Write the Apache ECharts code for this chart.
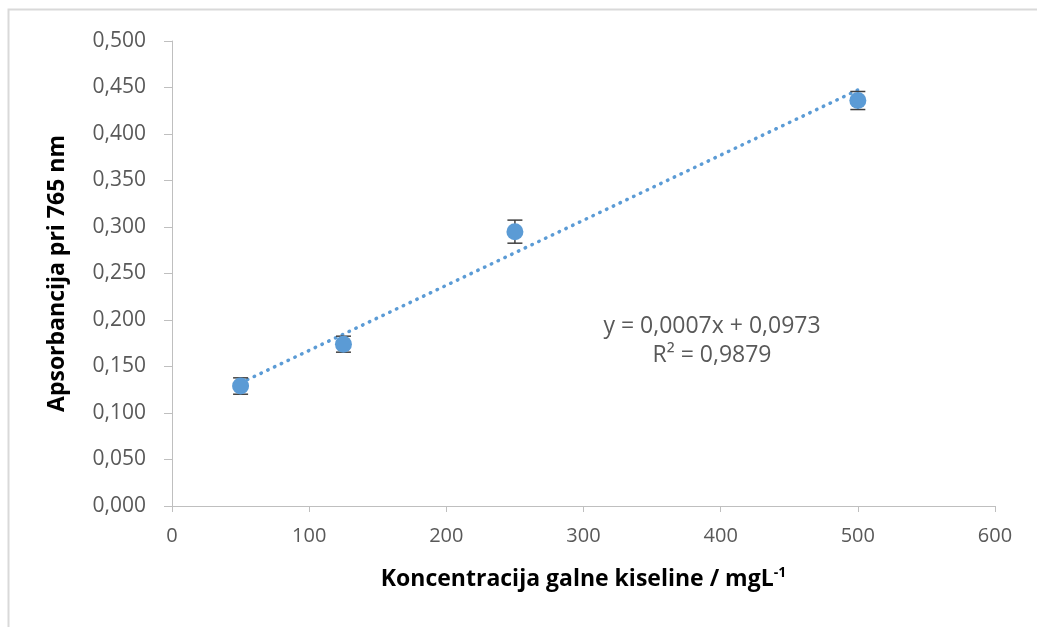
<!DOCTYPE html>
<html>
<head>
<meta charset="utf-8">
<script src="https://cdn.jsdelivr.net/npm/echarts@6/dist/echarts.min.js"></script>
<style>
    html, body { margin: 0; padding: 0; background: #fff; }
    #chart { width: 1037px; height: 627px; }
</style>
</head>
<body>
<div id="chart"></div>
<script>
// concentration of gallic acid (mg/L) and measured absorbance at 765 nm
const concentrations = [50, 125, 250, 500];
const absorbances = [0.129, 0.174, 0.295, 0.436];
const errors = [0.0088, 0.0086, 0.0124, 0.0097];

// linear trendline as printed on the chart
const trendSlope = 0.0007;
const trendIntercept = 0.0973;
const trendRange = [50, 500];
const equationLines = ['y = 0,0007x + 0,0973', 'R² = 0,9879'];

const blue = '#5b9bd5';
const labelGrey = '#595959';
const font = 'Open Sans, Liberation Sans, sans-serif';

const points = concentrations.map((x, i) => [x, absorbances[i]]);
const errorData = concentrations.map((x, i) => [x, absorbances[i] - errors[i], absorbances[i] + errors[i]]);
const trendData = trendRange.map(x => [x, trendSlope * x + trendIntercept]);

const chart = echarts.init(document.getElementById('chart'));

chart.setOption({
    animation: false,
    backgroundColor: '#fff',
    grid: { left: 172, top: 41, right: 42, bottom: 121 },
    xAxis: {
        type: 'value',
        min: 0,
        max: 600,
        interval: 100,
        name: 'Koncentracija galne kiseline / mgL{sup|-1}',
        nameLocation: 'middle',
        nameGap: 60,
        nameTextStyle: {
            fontFamily: font,
            fontSize: 23,
            fontWeight: 'bold',
            color: '#000',
            rich: {
                sup: { fontFamily: font, fontSize: 14, fontWeight: 'bold', color: '#000', verticalAlign: 'top', padding: [0, 0, 12, 0] }
            }
        },
        axisLine: { lineStyle: { color: '#bfbfbf', width: 1 } },
        axisTick: { show: true, length: 6, lineStyle: { color: '#bfbfbf' } },
        axisLabel: { color: labelGrey, fontFamily: font, fontSize: 20, margin: 20 },
        splitLine: { show: false }
    },
    yAxis: {
        type: 'value',
        min: 0,
        max: 0.5,
        interval: 0.05,
        name: 'Apsorbancija pri 765 nm',
        nameLocation: 'middle',
        nameGap: 103,
        nameTextStyle: { fontFamily: font, fontSize: 23, fontWeight: 'bold', color: '#000' },
        axisLine: { show: true, lineStyle: { color: '#bfbfbf', width: 1 } },
        axisTick: { show: true, length: 8, lineStyle: { color: '#bfbfbf' } },
        axisLabel: {
            color: labelGrey,
            fontFamily: font,
            fontSize: 21,
            margin: 26,
            formatter: v => v.toFixed(3).replace('.', ',')
        },
        splitLine: { show: false }
    },
    graphic: [
        {
            // chart frame, only top and left edges are visible
            type: 'rect',
            shape: { x: 8.5, y: 9.5, width: 1100, height: 700 },
            style: { fill: 'none', stroke: '#d9d9d9', lineWidth: 2 },
            silent: true
        },
        {
            type: 'text',
            x: 712,
            y: 312,
            style: {
                text: equationLines.join('\n'),
                fill: labelGrey,
                font: '23px ' + font,
                align: 'center',
                verticalAlign: 'top',
                lineHeight: 29
            }
        }
    ],
    series: [
        {
            name: 'trend',
            type: 'line',
            data: trendData,
            showSymbol: false,
            symbol: 'none',
            lineStyle: { color: blue, width: 3.5, type: [0.5, 7], cap: 'round' },
            z: 2
        },
        {
            name: 'error',
            type: 'custom',
            data: errorData,
            renderItem: (params, api) => {
                const x = api.value(0);
                const lo = api.coord([x, api.value(1)]);
                const hi = api.coord([x, api.value(2)]);
                const cap = 7.5;
                const style = { stroke: '#404040', lineWidth: 1.5 };
                return {
                    type: 'group',
                    children: [
                        { type: 'line', shape: { x1: lo[0], y1: lo[1], x2: hi[0], y2: hi[1] }, style },
                        { type: 'line', shape: { x1: lo[0] - cap, y1: lo[1], x2: lo[0] + cap, y2: lo[1] }, style },
                        { type: 'line', shape: { x1: hi[0] - cap, y1: hi[1], x2: hi[0] + cap, y2: hi[1] }, style }
                    ]
                };
            },
            z: 3
        },
        {
            name: 'absorbance',
            type: 'scatter',
            data: points,
            symbol: 'circle',
            symbolSize: 17,
            itemStyle: { color: blue, opacity: 1 },
            z: 4
        }
    ]
});
</script>
</body>
</html>
